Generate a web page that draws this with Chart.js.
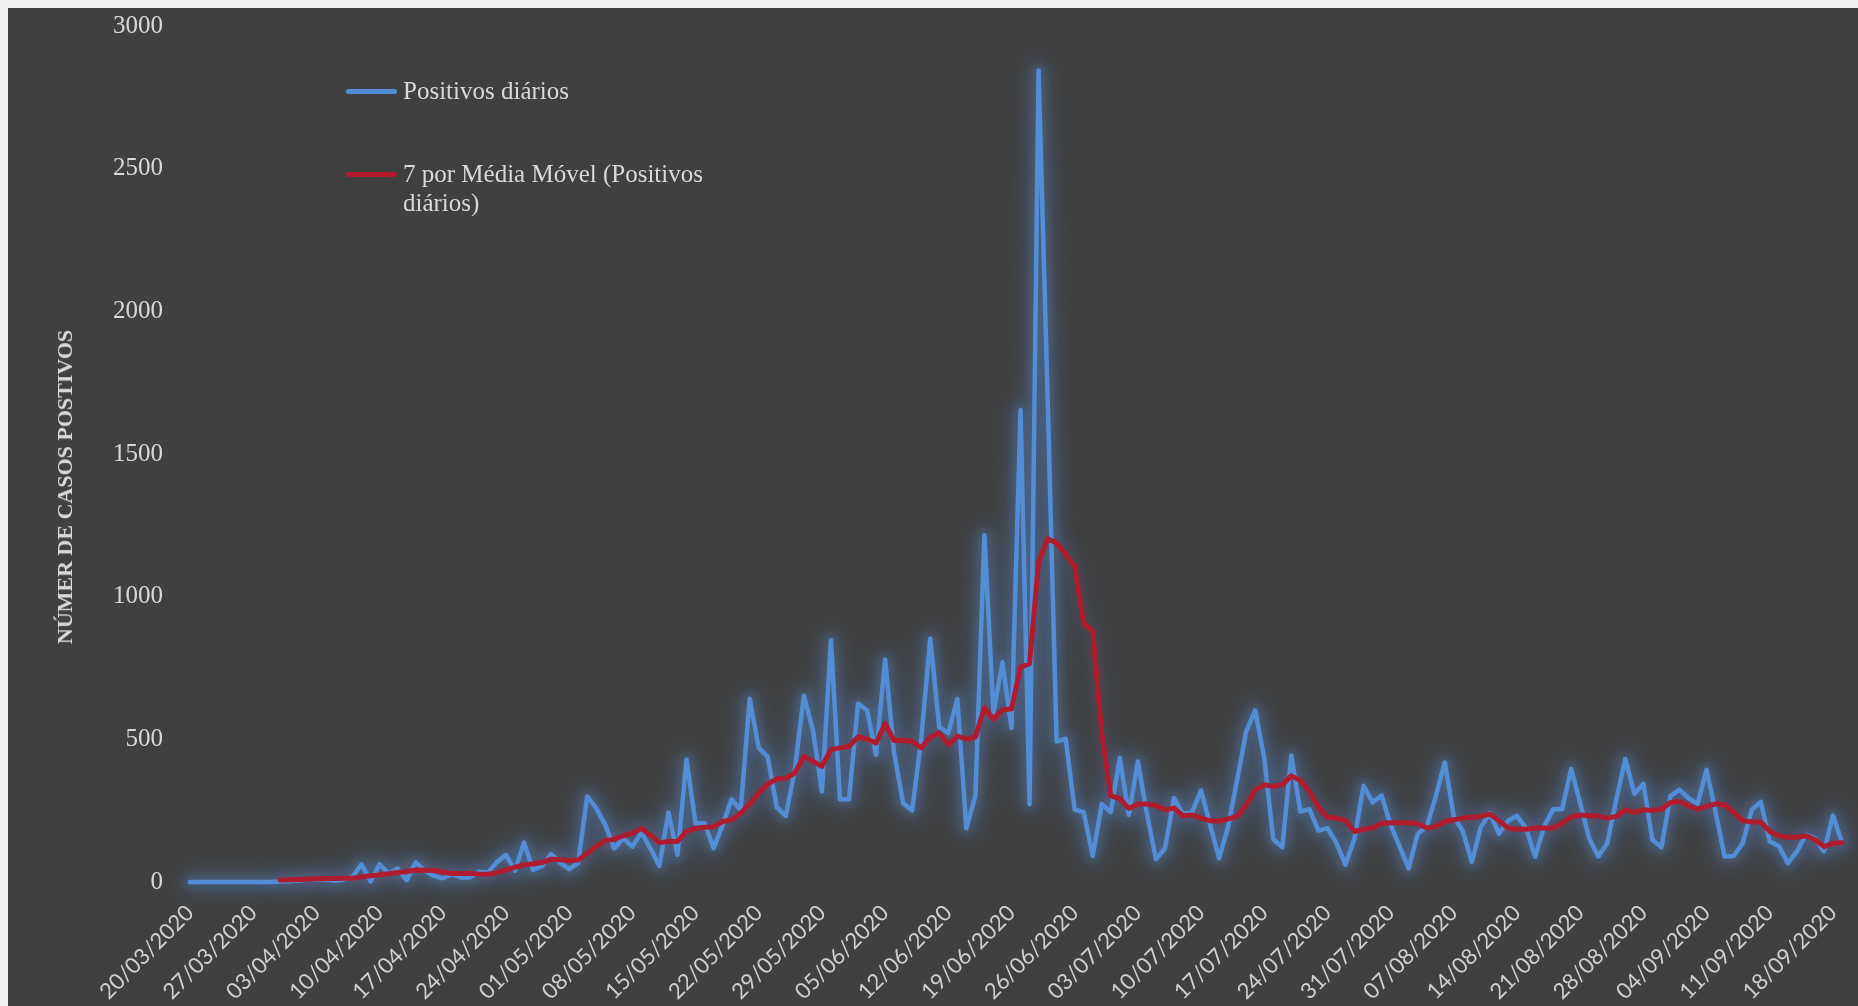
<!DOCTYPE html>
<html>
<head>
<meta charset="utf-8">
<script src="https://cdn.jsdelivr.net/npm/chart.js@4.4.1/dist/chart.umd.min.js"></script>
<style>
  html, body { margin: 0; padding: 0; background: #efefef; width: 1858px; height: 1006px; overflow: hidden; }
  #wrap { position: absolute; left: 8px; top: 8px; width: 1850px; height: 998px; background: #404040; }
  #c { display: block; }
  .lg-line { position: absolute; left: 338px; width: 51px; height: 5px; border-radius: 2.5px; }
  .lg-text { position: absolute; left: 395px; font-family: "Liberation Serif", serif; font-size: 25px; line-height: 29px; color: #d9d9d9; white-space: nowrap; }
  #ytitle { position: absolute; left: 57px; top: 479px; transform: translate(-50%, -50%) rotate(-90deg); font-family: "Liberation Serif", serif; font-weight: bold; font-size: 22px; color: #d9d9d9; white-space: nowrap; }
</style>
</head>
<body>
<div id="wrap">
  <canvas id="c" width="1850" height="998"></canvas>
  <div class="lg-line" style="top:81px;background:#538dd5"></div>
  <div class="lg-text" style="top:68px">Positivos diários</div>
  <div class="lg-line" style="top:164px;background:#b01c2e"></div>
  <div class="lg-text" style="top:151px">7 por Média Móvel (Positivos<br>diários)</div>
  <div id="ytitle">NÚMER DE CASOS POSTIVOS</div>
</div>
<script>
// ---- data ----
const startDate = [2020, 3, 20];
const dayCount = 184;

const tickLabels = ['20/03/2020','27/03/2020','03/04/2020','10/04/2020','17/04/2020','24/04/2020',
  '01/05/2020','08/05/2020','15/05/2020','22/05/2020','29/05/2020','05/06/2020','12/06/2020',
  '19/06/2020','26/06/2020','03/07/2020','10/07/2020','17/07/2020','24/07/2020','31/07/2020',
  '07/08/2020','14/08/2020','21/08/2020','28/08/2020','04/09/2020','11/09/2020','18/09/2020'];

const positivosDiarios = [
  0,0,0,0,0,0,0,0,0,0,
  2,3,5,8,10,9,4,8,18,62,
  2,62,30,47,7,69,40,22,13,27,
  16,16,36,33,70,95,39,138,42,56,
  98,68,45,66,300,259,200,118,153,124,
  173,118,56,244,95,429,206,206,118,200,
  290,251,642,470,438,262,232,393,653,534,
  317,847,290,290,625,602,446,780,452,276,
  251,500,853,543,522,642,189,302,1215,593,
  770,540,1654,273,2844,1700,492,502,254,245,
  92,273,245,435,235,422,240,80,118,294,
  239,244,320,200,83,194,358,528,601,434,
  150,122,443,247,255,180,189,136,60,153,
  337,279,303,200,124,48,169,194,300,419,
  230,177,71,194,241,169,215,232,189,89,
  194,255,255,396,276,153,89,136,290,431,
  309,344,148,122,302,323,294,274,393,244,
  89,91,136,253,281,142,126,66,107,165,
  153,107,233,138
];

const mediaMovel7 = [
  null,null,null,null,null,null,null,null,null,null,
  7,8,9,10,11,12,12,13,13,18,
  22,25,29,33,37,42,41,40,35,30,
  30,30,28,27,33,42,52,60,64,68,
  80,78,75,77,100,125,145,150,162,171,
  188,165,138,142,142,177,188,192,194,212,
  218,241,274,311,344,361,364,382,440,423,
  405,464,470,475,508,501,487,555,496,496,
  493,470,508,522,481,511,501,508,610,571,
  604,606,753,765,1121,1203,1188,1149,1107,905,
  879,521,302,292,258,273,273,268,253,259,
  232,235,224,215,214,221,230,270,323,341,
  335,341,372,356,317,262,227,224,215,177,
  185,189,206,208,208,208,204,189,194,212,
  218,224,227,230,238,215,189,185,185,189,
  189,189,206,227,235,232,232,224,230,253,
  244,253,251,255,279,282,267,255,265,274,
  270,244,215,210,210,177,162,157,157,162,
  148,124,136,138
];

const yMin = 0, yMax = 3000, yStep = 500;

// ---- categories (dates) ----
const categories = [];
for (let i = 0; i < dayCount; i++) {
  const d = new Date(Date.UTC(startDate[0], startDate[1] - 1, startDate[2] + i));
  const dd = String(d.getUTCDate()).padStart(2, '0');
  const mm = String(d.getUTCMonth() + 1).padStart(2, '0');
  categories.push(dd + '/' + mm + '/' + d.getUTCFullYear());
}

// soft glow drawn under the lines, following the library's own point positions
const glowPlugin = {
  id: 'glow',
  beforeDatasetsDraw(chart) {
    const ctx = chart.ctx;
    chart.data.datasets.forEach((ds, i) => {
      const meta = chart.getDatasetMeta(i);
      const pts = meta.data;
      const passes = i === 0
        ? [[24, 'rgba(83,141,213,0.20)', 'blur(10px)'], [11, 'rgba(83,141,213,0.28)', 'blur(4px)']]
        : [[20, 'rgba(83,141,213,0.12)', 'blur(9px)'], [10, 'rgba(120,60,90,0.18)', 'blur(4px)']];
      passes.forEach(([w, col, f]) => {
        ctx.save();
        ctx.filter = f;
        ctx.lineJoin = 'round';
        ctx.lineCap = 'round';
        ctx.lineWidth = w;
        ctx.strokeStyle = col;
        ctx.beginPath();
        let started = false;
        pts.forEach((p, k) => {
          const v = ds.data[k];
          if (v === null || v === undefined) { started = false; return; }
          if (!started) { ctx.moveTo(p.x, p.y); started = true; } else { ctx.lineTo(p.x, p.y); }
        });
        ctx.stroke();
        ctx.restore();
      });
    });
  }
};

new Chart(document.getElementById('c'), {
  type: 'line',
  data: {
    labels: categories,
    datasets: [
      {
        label: 'Positivos diários',
        data: positivosDiarios,
        borderColor: '#538dd5',
        borderWidth: 4.5,
        pointRadius: 0,
        tension: 0,
        order: 1,
        clip: false,
        borderJoinStyle: 'round',
        borderCapStyle: 'round'
      },
      {
        label: '7 por Média Móvel (Positivos diários)',
        data: mediaMovel7,
        borderColor: '#b01c2e',
        borderWidth: 5,
        pointRadius: 0,
        tension: 0,
        order: 0,
        clip: false,
        borderJoinStyle: 'round',
        borderCapStyle: 'round'
      }
    ]
  },
  options: {
    responsive: false,
    animation: false,
    devicePixelRatio: 1,
    layout: { padding: { top: 18, right: 16, left: 0, bottom: 0 } },
    plugins: { legend: { display: false }, tooltip: { enabled: false } },
    scales: {
      x: {
        type: 'category',
        offset: false,
        grid: { display: false, drawTicks: false },
        border: { display: false },
        ticks: {
          autoSkip: false,
          maxRotation: 45,
          minRotation: 45,
          padding: 18,
          color: '#d0d0d0',
          font: { family: 'Lato', size: 22 },
          callback: function (value, index) {
            const lab = categories[index];
            return tickLabels.includes(lab) ? lab : '';
          }
        },
        afterFit(scale) { scale.height = 124; scale.paddingLeft = 0; scale.paddingRight = 0; }
      },
      y: {
        min: yMin,
        max: yMax,
        grid: { display: false, drawTicks: false },
        border: { display: false },
        ticks: {
          stepSize: yStep,
          padding: 27,
          color: '#d9d9d9',
          font: { family: 'Liberation Serif', size: 25 },
          callback: function (value) { return String(value); }
        },
        afterFit(scale) { scale.width = 182; scale.paddingTop = 0; scale.paddingBottom = 0; }
      }
    }
  },
  plugins: [glowPlugin]
});
</script>
</body>
</html>
